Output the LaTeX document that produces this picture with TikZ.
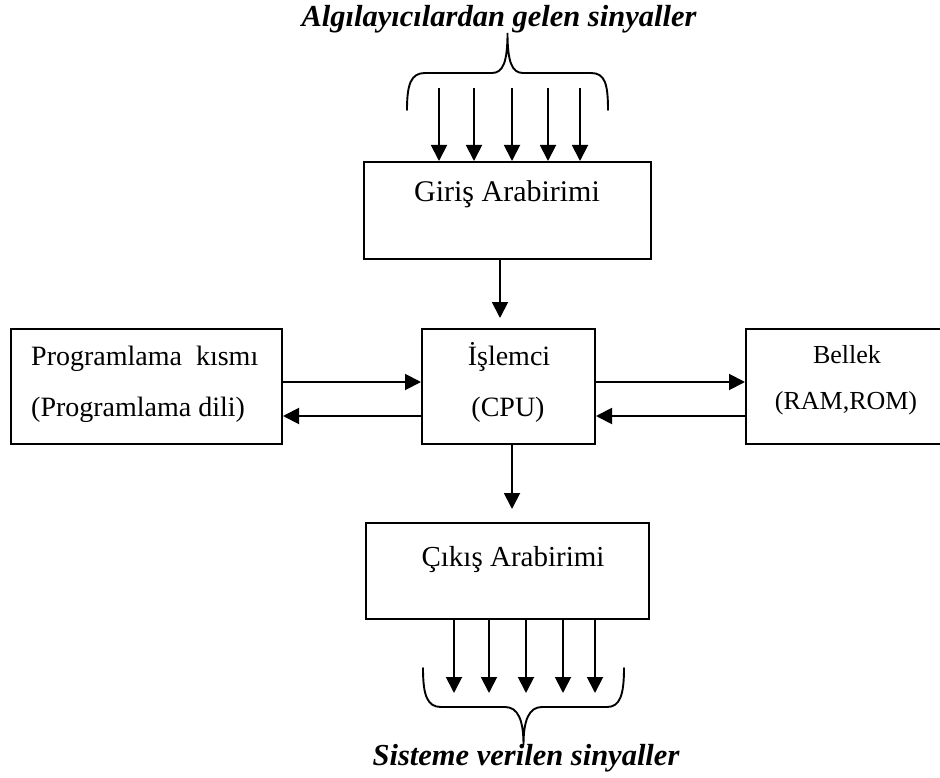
\documentclass[tikz,border=0pt]{standalone}
\usepackage{fontspec}
\setmainfont{Liberation Serif}
\usetikzlibrary{arrows.meta}

\begin{document}
\begin{tikzpicture}[x=1pt,y=-1pt,
  box/.style={draw, line width=2pt, inner sep=0pt},
  sig/.style={line width=1.9pt, -{Triangle[length=16pt,width=16pt]}},
  brace/.style={line width=1.9pt, line cap=round},
  lbl/.style={anchor=base, inner sep=0pt, font=\fontsize{#1}{#1}\selectfont},
  title/.style={anchor=base, inner sep=0pt, font=\bfseries\itshape\fontsize{30.5}{36}\selectfont}]

\useasboundingbox (0,0) rectangle (940,778);

% boxes
\node[box, minimum width=287pt, minimum height=97pt]  (giris)  at (507.5,210.5) {};
\node[box, minimum width=173pt, minimum height=115pt] (cpu)    at (508.5,386.5) {};
\node[box, minimum width=271pt, minimum height=115pt] (prog)   at (146.5,386.5) {};
\node[box, minimum width=202pt, minimum height=115pt] (bellek) at (847,386.5) {};
\node[box, minimum width=283pt, minimum height=96pt]  (cikis)  at (507.5,571) {};

% labels
\node[lbl=30] (tgiris) at (507,202) {Giriş Arabirimi};
\node[lbl=28] (tcpu1) at (509,365) {İşlemci};
\node[lbl=28] (tcpu2) at (508,416) {(CPU)};
\node[lbl=28, anchor=base west] (tprog1) at (31,365) {Programlama~~kısmı};
\node[lbl=28, anchor=base west] (tprog2) at (31,416) {(Programlama dili)};
\node[lbl=26] (tbel1) at (847,363) {Bellek};
\node[lbl=26] (tbel2) at (846,409.5) {(RAM,ROM)};
\node[lbl=29] (tcikis) at (513,566) {Çıkış Arabirimi};

% titles
\node[title] (intitle)  at (499,27)  {Algılayıcılardan gelen sinyaller};
\node[title] (outtitle) at (526,765) {Sisteme verilen sinyaller};

% incoming sensor signals
\foreach \i/\x in {1/439,2/474,3/512,4/548,5/580}{
  \coordinate (in\i) at (\x,88);
  \draw[sig] (in\i) -- (in\i |- giris.north);
}

% outgoing signals
\foreach \i/\x in {1/454,2/489,3/526,4/563,5/595}{
  \coordinate (out\i) at (\x,693);
  \draw[sig] (out\i |- cikis.south) -- (out\i);
}

% vertical links
\coordinate (gc) at (500,318);
\draw[sig] (giris.south -| gc) -- (gc);
\coordinate (cc) at (512,509);
\draw[sig] (cpu.south -| cc) -- (cc);

% horizontal links
\coordinate (hi) at (0,382);
\coordinate (lo) at (0,416);
\draw[sig] (prog.east |- hi) -- (cpu.west |- hi);
\draw[sig] (cpu.west |- lo) -- (prog.east |- lo);
\draw[sig] (cpu.east |- hi) -- (bellek.west |- hi);
\draw[sig] (bellek.west |- lo) -- (cpu.east |- lo);

% braces
\draw[brace] (407,110) .. controls (407,84) and (411,73) .. (425,73)
  -- (492,73) .. controls (503,73) and (507.5,62) .. (507.5,33)
  .. controls (507.5,62) and (512,73) .. (523,73)
  -- (591,73) .. controls (605,73) and (608,84) .. (608,110);

\draw[brace] (423,668) .. controls (423,695) and (427,707) .. (441,707)
  -- (505,707) .. controls (518,707) and (523.5,720) .. (523.5,745)
  .. controls (523.5,720) and (529,707) .. (542,707)
  -- (607,707) .. controls (620,707) and (624,695) .. (624,668);
\end{tikzpicture}
\end{document}
